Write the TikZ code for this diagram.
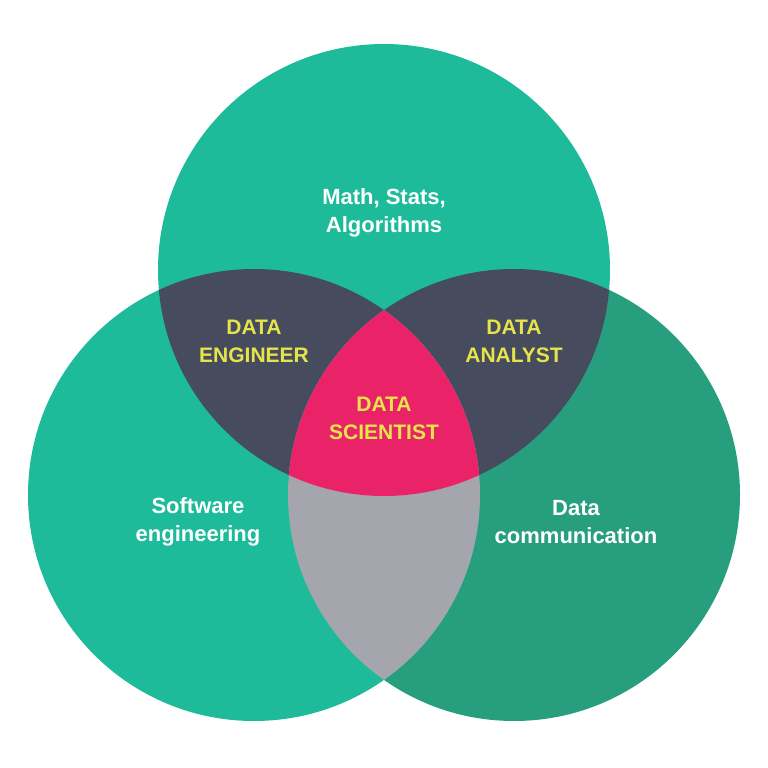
\documentclass[tikz,border=0pt]{standalone}
\usepackage{fontspec}
\setmainfont{Liberation Sans}
\definecolor{tealA}{HTML}{1DBB9A}
\definecolor{tealB}{HTML}{279E7E}
\definecolor{slate}{HTML}{474B5E}
\definecolor{pinkC}{HTML}{EA2369}
\definecolor{greyD}{HTML}{A4A5AD}
\definecolor{yel}{HTML}{E5E54A}
\tikzset{
  lbl/.style={align=center, inner sep=0pt},
  wlbl/.style={lbl, text=white, font=\fontsize{22}{28}\selectfont\bfseries},
  ylbl/.style={lbl, text=yel, font=\fontsize{21}{28}\selectfont\bfseries},
}
\begin{document}
\begin{tikzpicture}[x=1pt,y=-1pt]
\fill[white] (0,0) rectangle (768,768);
\useasboundingbox (0,0) rectangle (768,768);
\def\R{226}
\coordinate (cT) at (384,270);
\coordinate (cL) at (254,495);
\coordinate (cR) at (514,495);
% base circles
\fill[tealB] (cR) circle[radius=\R];
\fill[tealA] (cL) circle[radius=\R];
\fill[tealA] (cT) circle[radius=\R];
% top & left, top & right
\begin{scope}
  \clip (cT) circle[radius=\R];
  \fill[slate] (cL) circle[radius=\R];
  \fill[slate] (cR) circle[radius=\R];
\end{scope}
% left & right, and all three
\begin{scope}
  \clip (cL) circle[radius=\R];
  \fill[greyD] (cR) circle[radius=\R];
  \clip (cT) circle[radius=\R];
  \fill[pinkC] (cR) circle[radius=\R];
\end{scope}
% labels
\node[wlbl] (math) at (384,213) {Math, Stats,\\Algorithms};
\node[ylbl] (eng) at (254,341) {DATA\\ENGINEER};
\node[ylbl] (ana) at (514,341) {DATA\\ANALYST};
\node[ylbl] (sci) at (384,418) {DATA\\SCIENTIST};
\node[wlbl] (sw) at (198,522) {Software\\engineering};
\node[wlbl] (dc) at (576,522) {Data\\communication};
\end{tikzpicture}
\end{document}
